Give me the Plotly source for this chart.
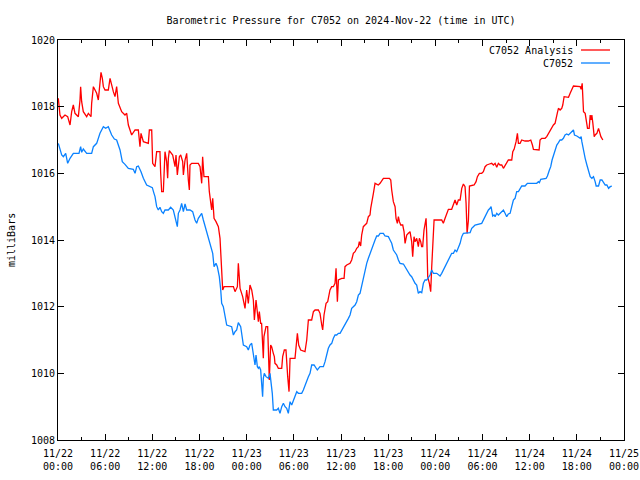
import pandas as pd
import plotly.graph_objects as go

start = pd.Timestamp("2024-11-22 00:00")

# C7052 Analysis (red) - hours since 2024-11-22 00:00 UTC, pressure in mb
red_hours = [0.04, 0.25, 0.47, 0.89, 1.23, 1.53, 1.74, 1.95, 2.16, 2.59, 2.8, 2.88, 3.01, 3.22, 3.65, 3.86,
             4.2, 4.28, 4.5, 4.71, 4.92, 5.13, 5.34, 5.47, 5.64, 5.77, 5.98, 6.4, 6.62, 6.83, 7.04, 7.25,
             7.46, 7.68, 8.1, 8.52, 8.74, 8.95, 9.16, 9.37, 9.8, 10.22, 10.43, 10.56, 10.86, 11.28, 11.49,
             11.62, 11.92, 12.04, 12.34, 12.55, 12.97, 13.06, 13.19, 13.4, 13.48, 13.61, 13.82, 13.95,
             14.04, 14.16, 14.59, 14.89, 15.01, 15.18, 15.44, 15.61, 15.86, 15.95, 16.16, 16.37, 16.58,
             16.71, 16.79, 17.0, 17.85, 18.07, 18.28, 18.4, 18.57, 19.13, 19.25, 19.42, 19.55, 19.68,
             19.85, 20.1, 20.4, 20.61, 20.82, 20.95, 21.12, 21.88, 22.31, 22.52, 22.82, 22.94, 23.16,
             23.49, 23.79, 24.0, 24.21, 24.42, 24.64, 24.85, 24.98, 25.19, 25.36, 25.49, 25.61, 25.78,
             25.9, 26.03, 26.12, 26.2, 26.46, 26.67, 26.76, 26.88, 27.05, 27.18, 27.39, 27.52, 27.6,
             27.82, 28.03, 28.46, 28.58, 28.79, 29.0, 29.09, 29.22, 29.39, 29.52, 30.15, 30.28, 30.45,
             30.62, 30.87, 31.42, 31.64, 31.85, 32.27, 32.49, 32.7, 33.12, 33.33, 33.55, 33.67, 33.84,
             34.1, 34.31, 34.43, 34.6, 34.82, 35.03, 35.24, 35.37, 35.54, 35.67, 36.09, 36.39, 36.51,
             36.73, 37.15, 37.36, 37.57, 37.79, 38.0, 38.21, 38.33, 38.5, 38.63, 38.84, 39.05, 39.27,
             39.48, 39.69, 39.78, 39.91, 40.12, 40.33, 40.75, 40.97, 41.18, 41.39, 42.16, 42.33, 42.45,
             42.66, 42.88, 43.0, 43.17, 43.3, 43.43, 43.6, 43.85, 44.02, 44.15, 44.36, 44.57, 44.78,
             44.99, 45.12, 45.29, 45.42, 45.63, 45.84, 45.97, 46.14, 46.26, 46.39, 46.56, 46.69, 46.82,
             46.9, 47.03, 47.24, 47.41, 47.54, 47.67, 47.84, 48.81, 49.02, 49.24, 49.45, 49.66, 50.08,
             50.3, 50.51, 50.72, 50.93, 51.15, 51.36, 51.57, 51.78, 51.91, 52.04, 52.21, 52.34, 52.93,
             53.18, 53.35, 53.6, 53.9, 54.11, 54.33, 54.54, 54.88, 55.17, 55.39, 55.6, 55.81, 56.02,
             56.23, 56.45, 56.66, 56.87, 57.08, 57.29, 57.51, 57.72, 57.85, 58.02, 58.27, 58.44, 58.57,
             58.78, 58.99, 59.41, 59.84, 60.14, 60.35, 60.48, 61.2, 61.32, 61.54, 61.96, 62.17, 62.39,
             62.6, 62.81, 63.02, 63.23, 63.36, 63.53, 63.66, 63.87, 64.08, 64.21, 64.38, 64.94, 65.15,
             65.36, 65.57, 66.43, 66.55, 66.68, 66.77, 66.85, 67.06, 67.19, 67.36, 67.57, 67.7, 67.82,
             67.91, 68.04, 68.21, 68.33, 68.55, 68.76, 68.89, 69.06, 69.31]
red_mb = [1018.25, 1017.75, 1017.65, 1017.75, 1017.7, 1017.45, 1017.85, 1018.05, 1017.8, 1017.7, 1018.2,
          1018.6, 1018.15, 1017.85, 1017.7, 1017.8, 1017.7, 1018.1, 1018.6, 1018.5, 1018.4, 1018.2, 1018.65,
          1019.03, 1018.85, 1018.6, 1018.5, 1018.5, 1018.85, 1018.6, 1018.45, 1018.3, 1018.6, 1018.1,
          1017.85, 1017.75, 1017.8, 1017.45, 1017.3, 1017.15, 1017.3, 1017.3, 1016.8, 1017.2, 1016.95,
          1016.9, 1016.9, 1017.3, 1017.3, 1016.3, 1016.2, 1016.65, 1016.65, 1016.0, 1015.45, 1015.45,
          1016.05, 1016.65, 1016.35, 1015.85, 1016.45, 1016.68, 1016.55, 1016.2, 1016.55, 1015.95, 1016.5,
          1016.55, 1016.35, 1015.95, 1016.4, 1016.6, 1015.8, 1015.5, 1016.25, 1016.3, 1016.3, 1016.2,
          1015.7, 1016.5, 1015.9, 1015.9, 1015.45, 1015.0, 1014.9, 1015.25, 1014.65, 1014.55, 1014.4,
          1014.05, 1013.15, 1012.5, 1012.6, 1012.6, 1012.6, 1012.45, 1012.6, 1013.3, 1012.55, 1012.3,
          1011.95, 1012.5, 1012.1, 1012.65, 1012.5, 1012.2, 1011.6, 1012.2, 1011.85, 1011.55, 1011.85,
          1011.5, 1011.5, 1010.7, 1010.45, 1011.1, 1011.4, 1011.4, 1010.7, 1009.8, 1010.85, 1010.8,
          1010.6, 1010.5, 1010.3, 1010.25, 1010.15, 1010.15, 1010.5, 1010.7, 1010.7, 1010.3, 1009.9,
          1009.45, 1010.45, 1010.45, 1010.7, 1011.2, 1010.85, 1010.7, 1010.65, 1011.0, 1011.6, 1011.6,
          1011.85, 1011.9, 1011.9, 1011.8, 1011.45, 1011.3, 1011.75, 1012.1, 1012.15, 1012.35, 1012.5,
          1012.6, 1012.6, 1012.7, 1013.15, 1012.15, 1012.8, 1012.85, 1012.85, 1013.2, 1013.25, 1013.3,
          1013.4, 1013.6, 1013.65, 1013.75, 1013.8, 1013.95, 1013.82, 1014.15, 1014.4, 1014.45, 1014.5,
          1014.7, 1014.75, 1014.95, 1015.1, 1015.4, 1015.7, 1015.65, 1015.7, 1015.8, 1015.85, 1015.85,
          1015.8, 1015.5, 1015.15, 1015.0, 1014.65, 1014.5, 1014.7, 1014.55, 1014.45, 1014.45, 1014.25,
          1013.9, 1014.15, 1014.2, 1014.25, 1013.95, 1013.5, 1014.1, 1013.95, 1014.05, 1013.8, 1014.05,
          1013.95, 1013.8, 1013.8, 1014.3, 1014.45, 1014.65, 1014.2, 1012.9, 1012.7, 1012.45, 1013.2,
          1013.7, 1014.6, 1014.6, 1014.5, 1014.65, 1014.8, 1014.92, 1014.92, 1015.05, 1015.2, 1015.05,
          1015.2, 1015.2, 1015.55, 1015.68, 1015.6, 1015.1, 1014.2, 1014.6, 1015.62, 1015.65, 1015.75,
          1015.9, 1016.0, 1016.0, 1016.05, 1016.2, 1016.25, 1016.28, 1016.3, 1016.25, 1016.3, 1016.18,
          1016.3, 1016.25, 1016.25, 1016.15, 1016.25, 1016.3, 1016.4, 1016.4, 1016.4, 1016.65, 1016.72,
          1016.95, 1017.2, 1016.9, 1016.9, 1017.0, 1016.97, 1016.97, 1017.0, 1016.85, 1016.72, 1016.7,
          1017.0, 1017.05, 1017.05, 1017.1, 1017.2, 1017.3, 1017.35, 1017.45, 1017.5, 1017.7, 1017.82,
          1017.95, 1017.9, 1017.95, 1018.05, 1018.3, 1018.28, 1018.4, 1018.5, 1018.62, 1018.6, 1018.52,
          1018.7, 1018.35, 1017.85, 1017.8, 1017.65, 1017.35, 1017.35, 1017.75, 1017.6, 1017.75, 1017.5,
          1017.1, 1017.15, 1017.2, 1017.35, 1017.25, 1017.1, 1017.0]

# C7052 (blue)
blue_hours = [0.04, 0.47, 0.68, 0.98, 1.23, 1.53, 1.95, 2.67, 2.88, 3.01, 3.22, 3.65, 4.28, 4.5, 4.92, 5.34,
              5.77, 6.06, 6.4, 6.83, 7.17, 7.46, 7.89, 8.18, 8.52, 8.95, 9.58, 9.8, 10.01, 10.22, 10.56,
              10.86, 11.28, 11.7, 12.0, 12.21, 12.34, 12.55, 12.76, 12.97, 13.19, 13.4, 13.61, 14.04, 14.33,
              14.67, 14.89, 15.1, 15.18, 15.31, 15.52, 15.73, 15.95, 16.16, 16.37, 16.79, 17.13, 17.43,
              17.64, 17.85, 18.07, 18.28, 18.49, 18.83, 19.13, 19.42, 19.68, 19.85, 20.1, 20.27, 20.52,
              20.7, 20.82, 21.03, 21.24, 21.46, 22.09, 22.31, 22.52, 22.73, 22.94, 23.24, 23.58, 24.0,
              24.21, 24.42, 24.64, 24.76, 24.93, 25.06, 25.19, 25.36, 25.49, 25.61, 25.78, 25.9, 26.03,
              26.12, 26.24, 26.46, 26.76, 26.97, 27.1, 27.26, 27.39, 27.82, 28.03, 28.24, 28.46, 28.67,
              28.88, 29.09, 29.3, 29.52, 29.73, 29.94, 30.15, 30.37, 30.58, 31.0, 31.21, 31.42, 31.64,
              31.85, 32.06, 32.27, 32.57, 32.82, 32.99, 33.33, 33.76, 33.97, 34.18, 34.39, 34.6, 34.82,
              35.03, 35.24, 35.45, 35.67, 35.88, 36.4, 36.94, 37.15, 37.36, 37.57, 37.79, 38.0, 38.21,
              38.42, 38.63, 38.84, 39.05, 39.27, 39.48, 39.69, 39.91, 40.12, 40.33, 40.54, 40.75, 40.97,
              41.39, 41.6, 42.03, 42.24, 42.45, 42.66, 42.88, 43.09, 43.3, 43.51, 43.94, 44.15, 44.36,
              44.57, 44.78, 44.99, 45.2, 45.42, 45.63, 45.84, 46.05, 46.27, 46.48, 46.69, 46.9, 47.12,
              47.33, 47.54, 47.75, 48.18, 48.39, 48.6, 48.81, 49.02, 49.24, 49.45, 49.66, 49.87, 50.08,
              50.3, 50.51, 50.72, 50.93, 51.15, 51.36, 51.57, 52.42, 52.63, 52.84, 53.05, 53.9, 54.11,
              54.33, 54.54, 54.75, 54.96, 55.09, 55.3, 55.47, 55.6, 55.81, 56.02, 56.23, 56.45, 56.66,
              56.87, 57.08, 57.29, 57.51, 57.72, 57.93, 58.14, 58.35, 58.57, 58.78, 58.99, 59.41, 59.71,
              60.9, 61.11, 61.24, 61.41, 62.09, 62.26, 62.51, 62.68, 62.85, 63.02, 63.23, 63.45, 63.66,
              63.87, 64.08, 64.29, 64.5, 64.72, 64.94, 65.15, 65.36, 65.57, 65.7, 66.0, 66.43, 66.55,
              66.64, 66.85, 67.06, 67.28, 67.49, 67.7, 67.91, 68.12, 68.33, 68.46, 68.76, 68.97, 69.19,
              69.4, 69.61, 69.82, 70.04, 70.25, 70.46]
blue_mb = [1016.9, 1016.55, 1016.5, 1016.6, 1016.3, 1016.45, 1016.6, 1016.6, 1016.8, 1016.63, 1016.73, 1016.6,
           1016.6, 1016.8, 1016.9, 1017.2, 1017.4, 1017.35, 1017.4, 1017.15, 1017.03, 1017.0, 1016.7, 1016.35,
           1016.27, 1016.15, 1016.12, 1016.0, 1016.2, 1016.22, 1016.05, 1015.85, 1015.65, 1015.6, 1015.57,
           1015.4, 1015.3, 1015.0, 1014.9, 1014.98, 1014.85, 1014.8, 1014.9, 1014.9, 1014.98, 1014.9, 1014.7,
           1014.55, 1014.4, 1014.8, 1014.9, 1015.1, 1014.85, 1015.08, 1014.9, 1014.9, 1014.85, 1014.6, 1014.5,
           1014.65, 1014.72, 1014.8, 1014.6, 1014.3, 1014.1, 1013.8, 1013.6, 1013.2, 1013.3, 1013.2, 1012.9,
           1012.5, 1012.1, 1012.0, 1011.7, 1011.45, 1011.4, 1011.15, 1011.25, 1011.3, 1011.52, 1011.4,
           1010.85, 1010.8, 1010.7, 1010.85, 1010.9, 1010.7, 1010.5, 1010.25, 1010.55, 1010.2, 1010.15,
           1010.2, 1010.1, 1009.5, 1009.3, 1009.85, 1010.0, 1009.9, 1009.85, 1010.0, 1009.75, 1009.4, 1008.9,
           1008.9, 1008.95, 1008.8, 1009.0, 1009.1, 1009.0, 1008.95, 1008.8, 1009.15, 1009.05, 1009.2,
           1009.3, 1009.45, 1009.4, 1009.4, 1009.5, 1009.65, 1009.75, 1009.9, 1010.0, 1010.25, 1010.25,
           1010.15, 1010.1, 1010.2, 1010.2, 1010.35, 1010.55, 1010.75, 1010.85, 1010.9, 1011.05, 1011.15,
           1011.15, 1011.2, 1011.2, 1011.4, 1011.65, 1011.75, 1011.95, 1012.0, 1012.05, 1012.15, 1012.35,
           1012.4, 1012.65, 1012.9, 1013.15, 1013.3, 1013.45, 1013.6, 1013.75, 1013.9, 1014.0, 1014.12,
           1014.12, 1014.2, 1014.2, 1014.12, 1014.1, 1014.0, 1013.9, 1013.7, 1013.6, 1013.55, 1013.4, 1013.3,
           1013.28, 1013.2, 1013.1, 1013.0, 1012.95, 1012.9, 1012.8, 1012.7, 1012.65, 1012.4, 1012.45,
           1012.42, 1012.7, 1012.8, 1012.8, 1012.9, 1012.95, 1013.1, 1013.0, 1013.0, 1012.95, 1012.92,
           1013.0, 1013.1, 1013.2, 1013.32, 1013.45, 1013.55, 1013.6, 1013.6, 1013.7, 1013.65, 1013.78,
           1013.9, 1014.1, 1014.2, 1014.22, 1014.35, 1014.4, 1014.45, 1014.5, 1014.6, 1014.7, 1014.8,
           1014.9, 1014.95, 1015.0, 1014.72, 1014.75, 1014.7, 1014.8, 1014.75, 1014.8, 1014.85, 1014.9,
           1014.8, 1014.7, 1014.78, 1014.8, 1015.0, 1015.2, 1015.25, 1015.45, 1015.45, 1015.55, 1015.62,
           1015.62, 1015.7, 1015.7, 1015.75, 1015.72, 1015.82, 1015.85, 1015.92, 1016.1, 1016.2, 1016.4,
           1016.55, 1016.7, 1016.85, 1016.92, 1017.0, 1017.0, 1017.05, 1017.15, 1017.18, 1017.15, 1017.2,
           1017.25, 1017.3, 1017.15, 1017.12, 1017.05, 1017.1, 1016.95, 1016.65, 1016.45, 1016.25, 1016.1,
           1015.9, 1015.85, 1015.9, 1015.75, 1015.62, 1015.62, 1015.8, 1015.8, 1015.7, 1015.65, 1015.65,
           1015.55, 1015.6, 1015.62]

tick_hours = list(range(0, 73, 6))
tick_labels = ["11/22<br>00:00", "11/22<br>06:00", "11/22<br>12:00", "11/22<br>18:00",
               "11/23<br>00:00", "11/23<br>06:00", "11/23<br>12:00", "11/23<br>18:00",
               "11/24<br>00:00", "11/24<br>06:00", "11/24<br>12:00", "11/24<br>18:00",
               "11/25<br>00:00"]
y_ticks = [1008, 1010, 1012, 1014, 1016, 1018, 1020]

RED = "#ff0000"
BLUE = "#0a82ff"
FONT = "DejaVu Sans Mono"


def to_time(hours):
    return [start + pd.Timedelta(hours=h) for h in hours]


fig = go.Figure()
fig.add_trace(go.Scatter(x=to_time(red_hours), y=red_mb, mode="lines", name="C7052 Analysis",
                         line=dict(color=RED, width=1.3)))
fig.add_trace(go.Scatter(x=to_time(blue_hours), y=blue_mb, mode="lines", name="C7052",
                         line=dict(color=BLUE, width=1.3)))

fig.update_layout(
    width=640, height=480,
    margin=dict(l=58, r=16, t=40, b=40, autoexpand=False),
    paper_bgcolor="white", plot_bgcolor="white",
    font=dict(family=FONT, size=10, color="black"),
    showlegend=False,
    title=dict(text="Barometric Pressure for C7052 on 2024-Nov-22 (time in UTC)",
               x=0.5, xref="paper", y=1 - 20 / 480, yanchor="middle",
               font=dict(family=FONT, size=10, color="black")),
)

fig.update_xaxes(
    type="date",
    range=[start, start + pd.Timedelta(hours=72)],
    tickvals=to_time(tick_hours), ticktext=tick_labels,
    ticks="inside", ticklen=6, tickcolor="black", ticklabelstandoff=4,
    ticklabeloverflow="allow",
    minor=dict(dtick=3 * 3600 * 1000, tick0=start, ticks="inside", ticklen=3, tickcolor="black"),
    showline=True, linecolor="black", linewidth=1, mirror="ticks",
    showgrid=False, zeroline=False, automargin=False,
)
fig.update_yaxes(
    range=[1008, 1020], tickvals=y_ticks, ticktext=[str(v) for v in y_ticks],
    ticks="inside", ticklen=6, tickcolor="black",
    showline=True, linecolor="black", linewidth=1, mirror="ticks",
    showgrid=False, zeroline=False, automargin=False,
)

# y-axis label
fig.add_annotation(text="milliBars", textangle=-90, xref="paper", yref="paper",
                   x=-47 / 566, y=0.5, xanchor="center", yanchor="middle", showarrow=False,
                   font=dict(family=FONT, size=10, color="black"))

# gnuplot-style key (text on left, sample line on right), top-right
legend_items = [("C7052 Analysis", RED), ("C7052", BLUE)]
for i, (label, color) in enumerate(legend_items):
    ypos = 1 - (10 + 13 * i) / 400
    fig.add_annotation(text=label, xref="paper", yref="paper", x=517 / 566, y=ypos,
                       xanchor="right", yanchor="middle", showarrow=False,
                       font=dict(family=FONT, size=10, color="black"))
    fig.add_shape(type="line", xref="paper", yref="paper", x0=523 / 566, x1=552 / 566,
                  y0=ypos, y1=ypos, line=dict(color=color, width=1.3))

# remove the default page margin so the 640x480 figure fills the window exactly
page_css = ("document.body.style.margin='0';"
            "document.body.style.overflow='hidden';"
            "document.documentElement.style.overflow='hidden';")
fig.write_html("out.html", post_script=page_css, config={"displayModeBar": False})
